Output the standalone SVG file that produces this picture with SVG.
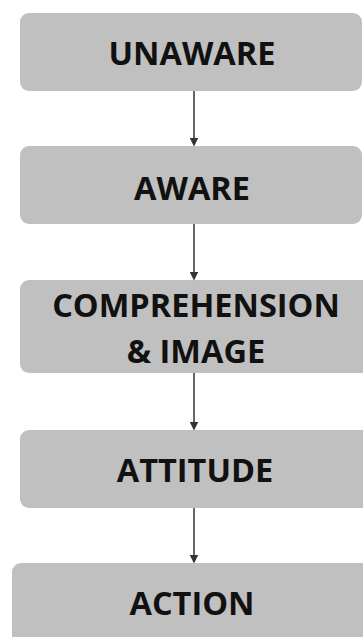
<svg xmlns="http://www.w3.org/2000/svg" width="363" height="637" viewBox="0 0 363 637">
<style>
.box{fill:#c0c0c0;}
.lbl{font-family:"Open Sans","Liberation Sans",sans-serif;font-weight:bold;font-size:32.5px;fill:#111;text-anchor:middle;}
.conn line{stroke:#333;stroke-width:1.5;}
</style>
<defs>
<marker id="ah" markerWidth="6" markerHeight="6" refX="5" refY="3" orient="auto" markerUnits="strokeWidth">
<path d="M0,0 L6,3 L0,6 Z" fill="#333"/>
</marker>
</defs>
<rect width="363" height="637" fill="#ffffff"/>
<g id="unaware">
<rect class="box" x="20" y="13" width="342" height="78" rx="9"/>
<text class="lbl" x="192" y="65">UNAWARE</text>
</g>
<g id="aware">
<rect class="box" x="20" y="146" width="342" height="78" rx="9"/>
<text class="lbl" x="192" y="200">AWARE</text>
</g>
<g id="comprehension">
<rect class="box" x="20" y="280" width="360" height="93" rx="9"/>
<text class="lbl" x="196" y="317">COMPREHENSION</text>
<text class="lbl" x="196" y="363">&amp; IMAGE</text>
</g>
<g id="attitude">
<rect class="box" x="20" y="430" width="360" height="78" rx="9"/>
<text class="lbl" x="195" y="482">ATTITUDE</text>
</g>
<g id="action">
<rect class="box" x="12" y="563" width="370" height="90" rx="9"/>
<text class="lbl" x="192" y="615">ACTION</text>
</g>
<g class="conn">
<line x1="194" y1="91" x2="194" y2="145" marker-end="url(#ah)"/>
<line x1="194" y1="224" x2="194" y2="279" marker-end="url(#ah)"/>
<line x1="194" y1="373" x2="194" y2="429" marker-end="url(#ah)"/>
<line x1="194" y1="508" x2="194" y2="562" marker-end="url(#ah)"/>
</g>
</svg>
